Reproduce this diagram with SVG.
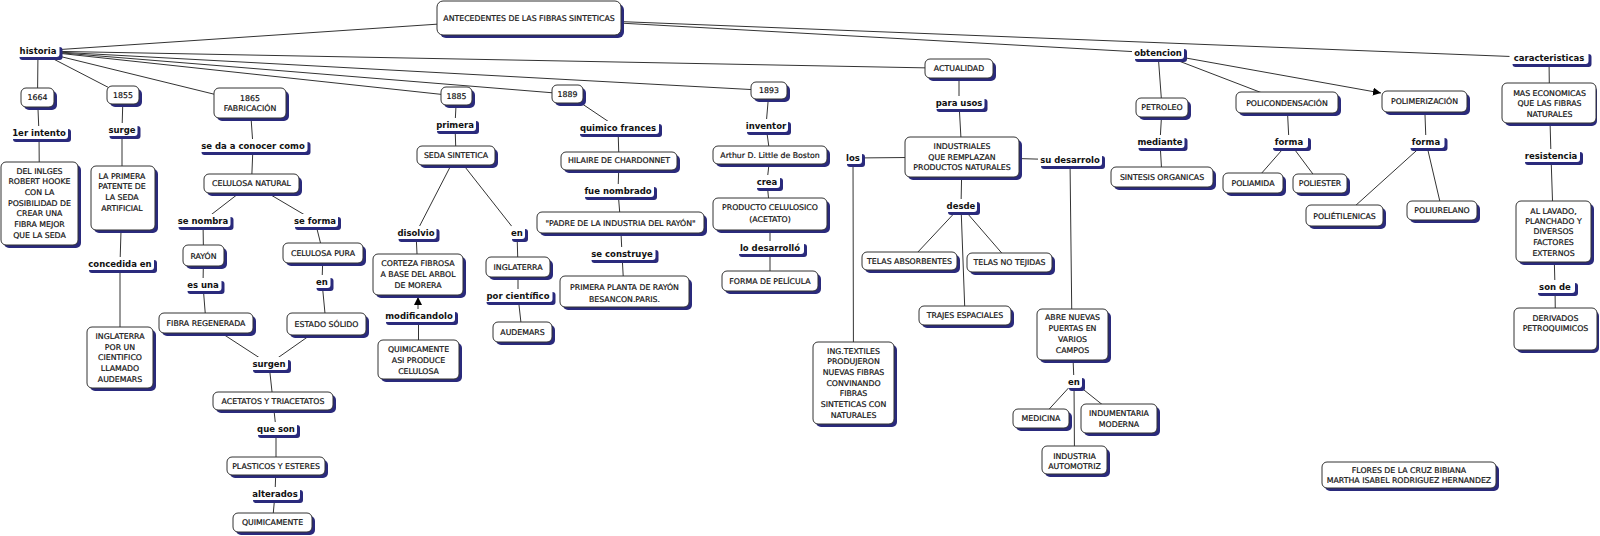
<svg xmlns="http://www.w3.org/2000/svg" width="1600" height="536" viewBox="0 0 1600 536">
<defs>
<marker id="arr" markerWidth="8" markerHeight="8" refX="8" refY="4" orient="auto" markerUnits="userSpaceOnUse"><path d="M0,0 L8,4 L0,8 z" fill="#000"/></marker>
<style>
.s{fill:#2a2a7c}
.c{fill:#fff;stroke:#333;stroke-width:1}
.l{fill:#fff}
.t{font-family:"DejaVu Sans",sans-serif;font-size:7.8px;fill:#111;stroke:#111;stroke-width:0.2;text-anchor:middle}
.lt{font-family:"DejaVu Sans",sans-serif;font-weight:bold;font-size:8.5px;fill:#111;text-anchor:middle}
#edges line{stroke:#333;stroke-width:1;fill:none}
</style>
</defs>
<rect width="1600" height="536" fill="#fff"/>
<g id="edges">
<line x1="529" y1="18" x2="38" y2="51"/>
<line x1="529" y1="18" x2="1158" y2="53"/>
<line x1="529" y1="18" x2="1549" y2="58"/>
<line x1="38" y1="51" x2="37.5" y2="97.5"/>
<line x1="38" y1="51" x2="123" y2="95"/>
<line x1="38" y1="51" x2="250" y2="103"/>
<line x1="38" y1="51" x2="456.5" y2="96"/>
<line x1="38" y1="51" x2="567.5" y2="94"/>
<line x1="38" y1="51" x2="769" y2="90.5"/>
<line x1="38" y1="51" x2="959" y2="68.5"/>
<line x1="37.5" y1="97.5" x2="39" y2="133"/>
<line x1="39" y1="133" x2="39.5" y2="203"/>
<line x1="123" y1="95" x2="122" y2="130"/>
<line x1="122" y1="130" x2="122" y2="198"/>
<line x1="122" y1="198" x2="120" y2="264"/>
<line x1="120" y1="264" x2="120" y2="357"/>
<line x1="250" y1="103" x2="253" y2="146"/>
<line x1="253" y1="146" x2="251.5" y2="183.5"/>
<line x1="251.5" y1="183.5" x2="203" y2="221"/>
<line x1="251.5" y1="183.5" x2="315" y2="221"/>
<line x1="203" y1="221" x2="203.5" y2="255.5"/>
<line x1="315" y1="221" x2="323" y2="253"/>
<line x1="203.5" y1="255.5" x2="203" y2="285"/>
<line x1="323" y1="253" x2="322" y2="282"/>
<line x1="203" y1="285" x2="206" y2="323"/>
<line x1="322" y1="282" x2="326" y2="324"/>
<line x1="206" y1="323" x2="269" y2="364"/>
<line x1="326" y1="324" x2="269" y2="364"/>
<line x1="269" y1="364" x2="273" y2="401"/>
<line x1="273" y1="401" x2="276" y2="429"/>
<line x1="276" y1="429" x2="276" y2="466"/>
<line x1="276" y1="466" x2="275" y2="494"/>
<line x1="275" y1="494" x2="272.5" y2="522"/>
<line x1="456.5" y1="96" x2="455" y2="125"/>
<line x1="455" y1="125" x2="456" y2="155.5"/>
<line x1="456" y1="155.5" x2="416" y2="233"/>
<line x1="456" y1="155.5" x2="517" y2="233"/>
<line x1="416" y1="233" x2="418" y2="274"/>
<line x1="517" y1="233" x2="518" y2="267"/>
<line x1="518" y1="267" x2="518" y2="296"/>
<line x1="518" y1="296" x2="522" y2="332"/>
<line x1="418.5" y1="359" x2="418.5" y2="316"/>
<line x1="418" y1="316" x2="418" y2="297" marker-end="url(#arr)"/>
<line x1="567.5" y1="94" x2="618" y2="128"/>
<line x1="618" y1="128" x2="619" y2="161"/>
<line x1="619" y1="161" x2="618" y2="191"/>
<line x1="618" y1="191" x2="620.5" y2="222.5"/>
<line x1="620.5" y1="222.5" x2="622" y2="254"/>
<line x1="622" y1="254" x2="624" y2="291"/>
<line x1="769" y1="90.5" x2="766" y2="126"/>
<line x1="766" y1="126" x2="770" y2="155"/>
<line x1="770" y1="155" x2="767" y2="182"/>
<line x1="767" y1="182" x2="770" y2="214"/>
<line x1="770" y1="214" x2="770" y2="248"/>
<line x1="770" y1="248" x2="770" y2="281"/>
<line x1="959" y1="68.5" x2="959" y2="103"/>
<line x1="959" y1="103" x2="962" y2="157"/>
<line x1="962" y1="157" x2="853" y2="158"/>
<line x1="962" y1="157" x2="1070" y2="160"/>
<line x1="853" y1="158" x2="853.5" y2="383"/>
<line x1="1070" y1="160" x2="1072" y2="334"/>
<line x1="962" y1="157" x2="961" y2="206"/>
<line x1="961" y1="206" x2="909.5" y2="261"/>
<line x1="961" y1="206" x2="1009.5" y2="262"/>
<line x1="961" y1="206" x2="965" y2="315"/>
<line x1="1072" y1="334" x2="1074" y2="382"/>
<line x1="1074" y1="382" x2="1041" y2="418"/>
<line x1="1074" y1="382" x2="1119" y2="418"/>
<line x1="1074" y1="382" x2="1074.5" y2="460"/>
<line x1="1158" y1="53" x2="1162" y2="107.5"/>
<line x1="1162" y1="107.5" x2="1160" y2="142"/>
<line x1="1160" y1="142" x2="1162" y2="177"/>
<line x1="1158" y1="53" x2="1287" y2="102.5"/>
<line x1="1158" y1="53" x2="1381" y2="93" marker-end="url(#arr)"/>
<line x1="1287" y1="102.5" x2="1289" y2="142"/>
<line x1="1289" y1="142" x2="1253" y2="183"/>
<line x1="1289" y1="142" x2="1320" y2="183.5"/>
<line x1="1424.5" y1="101.5" x2="1426" y2="142"/>
<line x1="1426" y1="142" x2="1344.5" y2="215.5"/>
<line x1="1426" y1="142" x2="1442" y2="210.5"/>
<line x1="1549" y1="58" x2="1549.5" y2="103"/>
<line x1="1549.5" y1="103" x2="1551" y2="156"/>
<line x1="1551" y1="156" x2="1553.5" y2="231"/>
<line x1="1553.5" y1="231" x2="1555" y2="287"/>
<line x1="1555" y1="287" x2="1555.5" y2="329"/>
</g>

<!-- concept nodes -->
<g id="antecedentes"><rect class="s" x="440" y="4" width="184" height="34" rx="6"/><rect class="c" x="437" y="1" width="184" height="34" rx="6"/><text class="t" x="529" y="20.5">ANTECEDENTES DE LAS FIBRAS SINTETICAS</text></g>
<g id="n1664"><rect class="s" x="24" y="91" width="33" height="19" rx="5"/><rect class="c" x="21" y="88" width="33" height="19" rx="5"/><text class="t" x="37.5" y="100.3">1664</text></g>
<g id="n1855"><rect class="s" x="110" y="89" width="32" height="18" rx="5"/><rect class="c" x="107" y="86" width="32" height="18" rx="5"/><text class="t" x="123" y="97.8">1855</text></g>
<g id="n1865"><rect class="s" x="217" y="91" width="72" height="30" rx="5"/><rect class="c" x="214" y="88" width="72" height="30" rx="5"/><text class="t" x="250" y="100.5">1865</text><text class="t" x="250" y="111.1">FABRICACIÓN</text></g>
<g id="hooke"><rect class="s" x="4" y="165" width="77" height="83" rx="5"/><rect class="c" x="1" y="162" width="77" height="83" rx="5"/><text class="t" x="39.5" y="173.5">DEL INLGES</text><text class="t" x="39.5" y="184.1">ROBERT HOOKE</text><text class="t" x="39.5" y="194.8">CON LA</text><text class="t" x="39.5" y="205.5">POSIBILIDAD DE</text><text class="t" x="39.5" y="216.1">CREAR UNA</text><text class="t" x="39.5" y="226.8">FIBRA MEJOR</text><text class="t" x="39.5" y="237.5">QUE LA SEDA</text></g>
<g id="patente"><rect class="s" x="94" y="169" width="64" height="64" rx="5"/><rect class="c" x="91" y="166" width="64" height="64" rx="5"/><text class="t" x="122" y="178.5">LA PRIMERA</text><text class="t" x="122" y="189.1">PATENTE DE</text><text class="t" x="122" y="199.8">LA SEDA</text><text class="t" x="122" y="210.5">ARTIFICIAL</text></g>
<g id="inglaterra1"><rect class="s" x="90" y="330" width="66" height="61" rx="5"/><rect class="c" x="87" y="327" width="66" height="61" rx="5"/><text class="t" x="120" y="338.8">INGLATERRA</text><text class="t" x="120" y="349.5">POR UN</text><text class="t" x="120" y="360.1">CIENTIFICO</text><text class="t" x="120" y="370.8">LLAMADO</text><text class="t" x="120" y="381.5">AUDEMARS</text></g>
<g id="celnat"><rect class="s" x="207" y="177" width="95" height="19" rx="5"/><rect class="c" x="204" y="174" width="95" height="19" rx="5"/><text class="t" x="251.5" y="186.3">CELULOSA NATURAL</text></g>
<g id="rayon"><rect class="s" x="186" y="248" width="41" height="21" rx="5"/><rect class="c" x="183" y="245" width="41" height="21" rx="5"/><text class="t" x="203.5" y="258.5">RAYÓN</text></g>
<g id="celpura"><rect class="s" x="286" y="246" width="80" height="20" rx="5"/><rect class="c" x="283" y="243" width="80" height="20" rx="5"/><text class="t" x="323" y="255.5">CELULOSA PURA</text></g>
<g id="fibrareg"><rect class="s" x="162" y="316" width="94" height="20" rx="5"/><rect class="c" x="159" y="313" width="94" height="20" rx="5"/><text class="t" x="206" y="325.5">FIBRA REGENERADA</text></g>
<g id="estado"><rect class="s" x="290" y="316" width="79" height="22" rx="5"/><rect class="c" x="287" y="313" width="79" height="22" rx="5"/><text class="t" x="326.5" y="327">ESTADO SÓLIDO</text></g>
<g id="acetatos"><rect class="s" x="216" y="395" width="120" height="18" rx="5"/><rect class="c" x="213" y="392" width="120" height="18" rx="5"/><text class="t" x="273" y="403.8">ACETATOS Y TRIACETATOS</text></g>
<g id="plasticos"><rect class="s" x="230" y="460" width="98" height="18" rx="5"/><rect class="c" x="227" y="457" width="98" height="18" rx="5"/><text class="t" x="276" y="468.8">PLASTICOS Y ESTERES</text></g>
<g id="quimicamente"><rect class="s" x="236" y="516" width="79" height="19" rx="5"/><rect class="c" x="233" y="513" width="79" height="19" rx="5"/><text class="t" x="272.5" y="525.3">QUIMICAMENTE</text></g>
<g id="n1885"><rect class="s" x="444" y="90" width="31" height="18" rx="5"/><rect class="c" x="441" y="87" width="31" height="18" rx="5"/><text class="t" x="456.5" y="98.8">1885</text></g>
<g id="seda"><rect class="s" x="420" y="149" width="78" height="19" rx="5"/><rect class="c" x="417" y="146" width="78" height="19" rx="5"/><text class="t" x="456" y="158.3">SEDA SINTETICA</text></g>
<g id="corteza"><rect class="s" x="376" y="257" width="90" height="41" rx="5"/><rect class="c" x="373" y="254" width="90" height="41" rx="5"/><text class="t" x="418" y="265.5">CORTEZA FIBROSA</text><text class="t" x="418" y="276.8">A BASE DEL ARBOL</text><text class="t" x="418" y="287.5">DE MORERA</text></g>
<g id="quimasi"><rect class="s" x="381" y="343" width="81" height="39" rx="5"/><rect class="c" x="378" y="340" width="81" height="39" rx="5"/><text class="t" x="418.5" y="351.8">QUIMICAMENTE</text><text class="t" x="418.5" y="362.8">ASI PRODUCE</text><text class="t" x="418.5" y="373.8">CELULOSA</text></g>
<g id="inglaterra2"><rect class="s" x="489" y="260" width="64" height="20" rx="5"/><rect class="c" x="486" y="257" width="64" height="20" rx="5"/><text class="t" x="518" y="269.5">INGLATERRA</text></g>
<g id="audemars"><rect class="s" x="496" y="325" width="59" height="20" rx="5"/><rect class="c" x="493" y="322" width="59" height="20" rx="5"/><text class="t" x="522.5" y="334.5">AUDEMARS</text></g>
<g id="n1889"><rect class="s" x="555" y="88" width="31" height="18" rx="5"/><rect class="c" x="552" y="85" width="31" height="18" rx="5"/><text class="t" x="567.5" y="96.5">1889</text></g>
<g id="hilaire"><rect class="s" x="564" y="155" width="116" height="18" rx="5"/><rect class="c" x="561" y="152" width="116" height="18" rx="5"/><text class="t" x="619" y="163.3">HILAIRE DE CHARDONNET</text></g>
<g id="padre"><rect class="s" x="540" y="215" width="167" height="21" rx="5"/><rect class="c" x="537" y="212" width="167" height="21" rx="5"/><text class="t" x="620.5" y="225.5">"PADRE DE LA INDUSTRIA DEL RAYÓN"</text></g>
<g id="planta"><rect class="s" x="563" y="279" width="129" height="31" rx="5"/><rect class="c" x="560" y="276" width="129" height="31" rx="5"/><text class="t" x="624.5" y="290.1">PRIMERA PLANTA DE RAYÓN</text><text class="t" x="624.5" y="301.5">BESANCON.PARIS.</text></g>
<g id="n1893"><rect class="s" x="754" y="85" width="36" height="17" rx="5"/><rect class="c" x="751" y="82" width="36" height="17" rx="5"/><text class="t" x="769" y="93.3">1893</text></g>
<g id="arthur"><rect class="s" x="716" y="149" width="114" height="18" rx="5"/><rect class="c" x="713" y="146" width="114" height="18" rx="5"/><text class="t" x="770" y="157.8">Arthur D. Little de Boston</text></g>
<g id="producto"><rect class="s" x="716" y="201" width="114" height="32" rx="5"/><rect class="c" x="713" y="198" width="114" height="32" rx="5"/><text class="t" x="770" y="209.8">PRODUCTO CELULOSICO</text><text class="t" x="770" y="221.5">(ACETATO)</text></g>
<g id="pelicula"><rect class="s" x="725" y="274" width="96" height="20" rx="5"/><rect class="c" x="722" y="271" width="96" height="20" rx="5"/><text class="t" x="770" y="284.3">FORMA DE PELÍCULA</text></g>
<g id="actualidad"><rect class="s" x="928" y="62" width="68" height="19" rx="5"/><rect class="c" x="925" y="59" width="68" height="19" rx="5"/><text class="t" x="959" y="71">ACTUALIDAD</text></g>
<g id="industriales"><rect class="s" x="908" y="140" width="114" height="40" rx="5"/><rect class="c" x="905" y="137" width="114" height="40" rx="5"/><text class="t" x="962" y="148.8">INDUSTRIALES</text><text class="t" x="962" y="159.8">QUE REMPLAZAN</text><text class="t" x="962" y="170.1">PRODUCTOS NATURALES</text></g>
<g id="telasabs"><rect class="s" x="865" y="255" width="95" height="18" rx="5"/><rect class="c" x="862" y="252" width="95" height="18" rx="5"/><text class="t" x="909.5" y="263.5">TELAS ABSORBENTES</text></g>
<g id="telasno"><rect class="s" x="970" y="256" width="85" height="19" rx="5"/><rect class="c" x="967" y="253" width="85" height="19" rx="5"/><text class="t" x="1009.5" y="264.5">TELAS NO TEJIDAS</text></g>
<g id="trajes"><rect class="s" x="922" y="309" width="92" height="19" rx="5"/><rect class="c" x="919" y="306" width="92" height="19" rx="5"/><text class="t" x="965" y="317.8">TRAJES ESPACIALES</text></g>
<g id="ingtextiles"><rect class="s" x="816" y="345" width="81" height="82" rx="5"/><rect class="c" x="813" y="342" width="81" height="82" rx="5"/><text class="t" x="853.5" y="353.5">ING.TEXTILES</text><text class="t" x="853.5" y="364.1">PRODUJERON</text><text class="t" x="853.5" y="374.8">NUEVAS FIBRAS</text><text class="t" x="853.5" y="385.5">CONVINANDO</text><text class="t" x="853.5" y="396.1">FIBRAS</text><text class="t" x="853.5" y="406.8">SINTETICAS CON</text><text class="t" x="853.5" y="417.5">NATURALES</text></g>
<g id="abre"><rect class="s" x="1040" y="312" width="71" height="51" rx="5"/><rect class="c" x="1037" y="309" width="71" height="51" rx="5"/><text class="t" x="1072.5" y="320.1">ABRE NUEVAS</text><text class="t" x="1072.5" y="331.1">PUERTAS EN</text><text class="t" x="1072.5" y="341.8">VARIOS</text><text class="t" x="1072.5" y="352.8">CAMPOS</text></g>
<g id="medicina"><rect class="s" x="1016" y="412" width="56" height="19" rx="5"/><rect class="c" x="1013" y="409" width="56" height="19" rx="5"/><text class="t" x="1041" y="421.3">MEDICINA</text></g>
<g id="indumentaria"><rect class="s" x="1084" y="407" width="76" height="29" rx="5"/><rect class="c" x="1081" y="404" width="76" height="29" rx="5"/><text class="t" x="1119" y="415.8">INDUMENTARIA</text><text class="t" x="1119" y="426.5">MODERNA</text></g>
<g id="automotriz"><rect class="s" x="1045" y="449" width="65" height="28" rx="5"/><rect class="c" x="1042" y="446" width="65" height="28" rx="5"/><text class="t" x="1074.5" y="458.5">INDUSTRIA</text><text class="t" x="1074.5" y="468.8">AUTOMOTRIZ</text></g>
<g id="petroleo"><rect class="s" x="1139" y="101" width="52" height="19" rx="5"/><rect class="c" x="1136" y="98" width="52" height="19" rx="5"/><text class="t" x="1162" y="110.1">PETROLEO</text></g>
<g id="sintesis"><rect class="s" x="1114" y="170" width="102" height="20" rx="5"/><rect class="c" x="1111" y="167" width="102" height="20" rx="5"/><text class="t" x="1162" y="179.5">SINTESIS ORGANICAS</text></g>
<g id="policond"><rect class="s" x="1239" y="95" width="102" height="21" rx="5"/><rect class="c" x="1236" y="92" width="102" height="21" rx="5"/><text class="t" x="1287" y="105.5">POLICONDENSACIÓN</text></g>
<g id="poliamida"><rect class="s" x="1226" y="176" width="60" height="20" rx="5"/><rect class="c" x="1223" y="173" width="60" height="20" rx="5"/><text class="t" x="1253" y="185.5">POLIAMIDA</text></g>
<g id="poliester"><rect class="s" x="1296" y="177" width="54" height="19" rx="5"/><rect class="c" x="1293" y="174" width="54" height="19" rx="5"/><text class="t" x="1320" y="186.2">POLIESTER</text></g>
<g id="polimer"><rect class="s" x="1385" y="94" width="85" height="21" rx="5"/><rect class="c" x="1382" y="91" width="85" height="21" rx="5"/><text class="t" x="1424.5" y="104.3">POLIMERIZACIÓN</text></g>
<g id="polietil"><rect class="s" x="1309" y="208" width="77" height="21" rx="5"/><rect class="c" x="1306" y="205" width="77" height="21" rx="5"/><text class="t" x="1344.5" y="218.5">POLIÉTILENICAS</text></g>
<g id="poliurel"><rect class="s" x="1410" y="204" width="70" height="19" rx="5"/><rect class="c" x="1407" y="201" width="70" height="19" rx="5"/><text class="t" x="1442" y="213.2">POLIURELANO</text></g>
<g id="masecon"><rect class="s" x="1505" y="86" width="92" height="40" rx="5"/><rect class="c" x="1502" y="83" width="94" height="40" rx="5"/><text class="t" x="1549.5" y="95.5">MAS ECONOMICAS</text><text class="t" x="1549.5" y="106.1">QUE LAS FIBRAS</text><text class="t" x="1549.5" y="116.8">NATURALES</text></g>
<g id="lavado"><rect class="s" x="1519" y="204" width="75" height="61" rx="5"/><rect class="c" x="1516" y="201" width="75" height="61" rx="5"/><text class="t" x="1553.5" y="213.5">AL LAVADO,</text><text class="t" x="1553.5" y="223.8">PLANCHADO Y</text><text class="t" x="1553.5" y="234.1">DIVERSOS</text><text class="t" x="1553.5" y="244.8">FACTORES</text><text class="t" x="1553.5" y="255.5">EXTERNOS</text></g>
<g id="derivados"><rect class="s" x="1517" y="311" width="82" height="42" rx="5"/><rect class="c" x="1514" y="308" width="83" height="42" rx="5"/><text class="t" x="1555.5" y="320.5">DERIVADOS</text><text class="t" x="1555.5" y="331.1">PETROQUIMICOS</text></g>
<g id="autores"><rect class="s" x="1325" y="465" width="174" height="26" rx="5"/><rect class="c" x="1322" y="462" width="174" height="26" rx="5"/><text class="t" x="1409" y="472.5">FLORES DE LA CRUZ BIBIANA</text><text class="t" x="1409" y="483">MARTHA ISABEL RODRIGUEZ HERNANDEZ</text></g>

<!-- linking phrases -->
<g id="l-historia"><rect class="s" x="19.5" y="47" width="43" height="13" rx="3"/><rect class="l" x="16.5" y="44" width="43" height="13" rx="3"/><text class="lt" x="38" y="54">historia</text></g>
<g id="l-1er"><rect class="s" x="13" y="129" width="58" height="13" rx="3"/><rect class="l" x="10" y="126" width="58" height="13" rx="3"/><text class="lt" x="39" y="136">1er intento</text></g>
<g id="l-surge"><rect class="s" x="109.5" y="126" width="31" height="13" rx="3"/><rect class="l" x="106.5" y="123" width="31" height="13" rx="3"/><text class="lt" x="122" y="133">surge</text></g>
<g id="l-seda"><rect class="s" x="201.5" y="142" width="109" height="13" rx="3"/><rect class="l" x="198.5" y="139" width="109" height="13" rx="3"/><text class="lt" x="253" y="149">se da a conocer como</text></g>
<g id="l-concedida"><rect class="s" x="89" y="260" width="68" height="13" rx="3"/><rect class="l" x="86" y="257" width="68" height="13" rx="3"/><text class="lt" x="120" y="267">concedida en</text></g>
<g id="l-senombra"><rect class="s" x="178.5" y="217" width="55" height="13" rx="3"/><rect class="l" x="175.5" y="214" width="55" height="13" rx="3"/><text class="lt" x="203" y="224">se nombra</text></g>
<g id="l-seforma"><rect class="s" x="295" y="217" width="46" height="13" rx="3"/><rect class="l" x="292" y="214" width="46" height="13" rx="3"/><text class="lt" x="315" y="224">se forma</text></g>
<g id="l-esuna"><rect class="s" x="187.5" y="281" width="37" height="13" rx="3"/><rect class="l" x="184.5" y="278" width="37" height="13" rx="3"/><text class="lt" x="203" y="288">es una</text></g>
<g id="l-en1"><rect class="s" x="316.5" y="278" width="17" height="13" rx="3"/><rect class="l" x="313.5" y="275" width="17" height="13" rx="3"/><text class="lt" x="322" y="285">en</text></g>
<g id="l-surgen"><rect class="s" x="253" y="360" width="38" height="13" rx="3"/><rect class="l" x="250" y="357" width="38" height="13" rx="3"/><text class="lt" x="269" y="367">surgen</text></g>
<g id="l-queson"><rect class="s" x="258" y="425" width="42" height="13" rx="3"/><rect class="l" x="255" y="422" width="42" height="13" rx="3"/><text class="lt" x="276" y="432">que son</text></g>
<g id="l-alterados"><rect class="s" x="253" y="490" width="50" height="13" rx="3"/><rect class="l" x="250" y="487" width="50" height="13" rx="3"/><text class="lt" x="275" y="497">alterados</text></g>
<g id="l-primera"><rect class="s" x="437" y="121" width="42" height="13" rx="3"/><rect class="l" x="434" y="118" width="42" height="13" rx="3"/><text class="lt" x="455" y="128">primera</text></g>
<g id="l-disolvio"><rect class="s" x="398.5" y="229" width="41" height="13" rx="3"/><rect class="l" x="395.5" y="226" width="41" height="13" rx="3"/><text class="lt" x="416" y="236">disolvio</text></g>
<g id="l-modif"><rect class="s" x="386" y="312" width="72" height="13" rx="3"/><rect class="l" x="383" y="309" width="72" height="13" rx="3"/><text class="lt" x="419" y="319">modificandolo</text></g>
<g id="l-en2"><rect class="s" x="512" y="229" width="16" height="13" rx="3"/><rect class="l" x="509" y="226" width="16" height="13" rx="3"/><text class="lt" x="517" y="236">en</text></g>
<g id="l-porcient"><rect class="s" x="486.5" y="292" width="69" height="13" rx="3"/><rect class="l" x="483.5" y="289" width="69" height="13" rx="3"/><text class="lt" x="518" y="299">por científico</text></g>
<g id="l-quimico"><rect class="s" x="580" y="124" width="82" height="13" rx="3"/><rect class="l" x="577" y="121" width="82" height="13" rx="3"/><text class="lt" x="618" y="131">quimico frances</text></g>
<g id="l-fue"><rect class="s" x="585" y="187" width="72" height="13" rx="3"/><rect class="l" x="582" y="184" width="72" height="13" rx="3"/><text class="lt" x="618" y="194">fue nombrado</text></g>
<g id="l-construye"><rect class="s" x="591.5" y="250" width="67" height="13" rx="3"/><rect class="l" x="588.5" y="247" width="67" height="13" rx="3"/><text class="lt" x="622" y="257">se construye</text></g>
<g id="l-inventor"><rect class="s" x="747" y="122" width="44" height="13" rx="3"/><rect class="l" x="744" y="119" width="44" height="13" rx="3"/><text class="lt" x="766" y="129">inventor</text></g>
<g id="l-crea"><rect class="s" x="757" y="178" width="26" height="13" rx="3"/><rect class="l" x="754" y="175" width="26" height="13" rx="3"/><text class="lt" x="767" y="185">crea</text></g>
<g id="l-desarrollo"><rect class="s" x="739" y="244" width="68" height="13" rx="3"/><rect class="l" x="736" y="241" width="68" height="13" rx="3"/><text class="lt" x="770" y="251">lo desarrolló</text></g>
<g id="l-parausos"><rect class="s" x="936.5" y="99" width="51" height="13" rx="3"/><rect class="l" x="933.5" y="96" width="51" height="13" rx="3"/><text class="lt" x="959" y="106">para usos</text></g>
<g id="l-los"><rect class="s" x="847" y="154" width="18" height="13" rx="3"/><rect class="l" x="844" y="151" width="18" height="13" rx="3"/><text class="lt" x="853" y="161">los</text></g>
<g id="l-sudes"><rect class="s" x="1041" y="156" width="64" height="13" rx="3"/><rect class="l" x="1038" y="153" width="64" height="13" rx="3"/><text class="lt" x="1070" y="163">su desarrolo</text></g>
<g id="l-desde"><rect class="s" x="948" y="202" width="32" height="13" rx="3"/><rect class="l" x="945" y="199" width="32" height="13" rx="3"/><text class="lt" x="961" y="209">desde</text></g>
<g id="l-en3"><rect class="s" x="1069" y="378" width="16" height="13" rx="3"/><rect class="l" x="1066" y="375" width="16" height="13" rx="3"/><text class="lt" x="1074" y="385">en</text></g>
<g id="l-obtencion"><rect class="s" x="1135" y="49" width="52" height="13" rx="3"/><rect class="l" x="1132" y="46" width="52" height="13" rx="3"/><text class="lt" x="1158" y="56">obtencion</text></g>
<g id="l-mediante"><rect class="s" x="1138.5" y="138" width="49" height="13" rx="3"/><rect class="l" x="1135.5" y="135" width="49" height="13" rx="3"/><text class="lt" x="1160" y="145">mediante</text></g>
<g id="l-forma1"><rect class="s" x="1273" y="138" width="38" height="13" rx="3"/><rect class="l" x="1270" y="135" width="38" height="13" rx="3"/><text class="lt" x="1289" y="145">forma</text></g>
<g id="l-forma2"><rect class="s" x="1410.5" y="138" width="37" height="13" rx="3"/><rect class="l" x="1407.5" y="135" width="37" height="13" rx="3"/><text class="lt" x="1426" y="145">forma</text></g>
<g id="l-caract"><rect class="s" x="1512.5" y="54" width="79" height="13" rx="3"/><rect class="l" x="1509.5" y="51" width="79" height="13" rx="3"/><text class="lt" x="1549" y="61">caracteristicas</text></g>
<g id="l-resist"><rect class="s" x="1525" y="152" width="58" height="13" rx="3"/><rect class="l" x="1522" y="149" width="58" height="13" rx="3"/><text class="lt" x="1551" y="159">resistencia</text></g>
<g id="l-sonde"><rect class="s" x="1538" y="283" width="40" height="13" rx="3"/><rect class="l" x="1535" y="280" width="40" height="13" rx="3"/><text class="lt" x="1555" y="290">son de</text></g>
</svg>
